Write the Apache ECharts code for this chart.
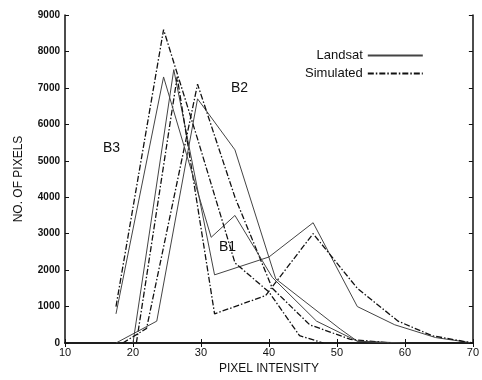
<!DOCTYPE html>
<html>
<head>
<meta charset="utf-8">
<script src="https://cdn.jsdelivr.net/npm/echarts@6/dist/echarts.min.js"></script>
<style>
  html, body { margin: 0; padding: 0; background: #fff; }
  #chart { width: 482px; height: 380px; }
</style>
</head>
<body>
<div id="chart"></div>
<script>
// Histograms of pixel intensity, Landsat vs simulated, for bands B1-B3.
// Points are [intensity, count].
const b1Landsat = [[20, 0], [26, 7500], [32, 1870], [40, 2360], [46.5, 3300], [53, 1000], [58.5, 500], [64.5, 150], [70, 0]];
const b1Sim = [[20.5, 0], [26.5, 7300], [32, 800], [39.5, 1300], [46.5, 3000], [53, 1500], [59, 600], [64, 200], [70, 0]];
const b2Landsat = [[17.5, 0], [23.5, 600], [29.5, 6700], [35, 5300], [41, 1760], [50.5, 380], [53, 50], [60, 0]];
const b2Sim = [[18.5, 0], [22, 400], [29.5, 7100], [35, 4000], [40.5, 1500], [46, 500], [52, 100], [58, 0]];
const b3Landsat = [[17.5, 800], [24.5, 7300], [31.5, 2900], [35, 3500], [40.5, 1800], [47, 600], [53, 50], [58, 0]];
const b3Sim = [[17.5, 1000], [24.5, 8600], [29.5, 5600], [35, 2200], [40, 1400], [44.5, 200], [48, 0]];

const xTicks = [10, 20, 30, 40, 50, 60, 70];
const yMax = 9000;

const FONT = "'Liberation Sans Narrow', 'Liberation Sans', Arial, sans-serif";
const SANS = "'Liberation Sans', Arial, sans-serif";
const INK = "#111";
const SOLID = { color: "#444", width: 1, type: "solid" };
const DASHDOT = { color: "#111", width: 1.3, type: [6, 2, 1.5, 2] };

const line = (name, data, style) => ({
  name,
  type: "line",
  data,
  symbol: "none",
  lineStyle: style,
  itemStyle: { color: style.color },
  animation: false,
});

const chart = echarts.init(document.getElementById("chart"));
chart.setOption({
  backgroundColor: "#fff",
  animation: false,
  grid: { left: 65, right: 9, top: 15, bottom: 33 },
  legend: {
    orient: "vertical",
    left: 300,
    top: 44,
    align: "right",
    itemWidth: 55,
    itemHeight: 6,
    itemGap: 5,
    data: ["Landsat", "Simulated"],
    itemStyle: { opacity: 0 },
    textStyle: { color: INK, fontSize: 13, fontFamily: SANS },
  },
  xAxis: [
    {
      type: "value",
      min: xTicks[0],
      max: xTicks[xTicks.length - 1],
      interval: 10,
      name: "PIXEL INTENSITY",
      nameLocation: "middle",
      nameGap: 20,
      nameTextStyle: { color: INK, fontSize: 12, fontFamily: FONT },
      axisLine: { lineStyle: { color: INK, width: 1.5 } },
      axisTick: { inside: true, length: 4, lineStyle: { color: INK } },
      axisLabel: { color: INK, fontSize: 11, fontFamily: FONT, margin: 4 },
      splitLine: { show: false },
    },
    {
      type: "value",
      position: "top",
      min: xTicks[0],
      max: xTicks[xTicks.length - 1],
      interval: 10,
      axisLine: { show: true, lineStyle: { color: INK, width: 1.5 } },
      axisTick: { inside: true, length: 4, lineStyle: { color: INK } },
      axisLabel: { show: false },
      splitLine: { show: false },
    },
  ],
  yAxis: [
    {
      type: "value",
      min: 0,
      max: yMax,
      interval: 1000,
      name: "NO. OF PIXELS",
      nameLocation: "middle",
      nameGap: 40,
      nameTextStyle: { color: INK, fontSize: 12, fontFamily: FONT },
      axisLine: { show: true, lineStyle: { color: INK, width: 1.5 } },
      axisTick: { show: true, inside: true, length: 4, lineStyle: { color: INK } },
      axisLabel: { color: INK, fontSize: 10, fontWeight: "bold", fontFamily: FONT, margin: 5, formatter: (v) => String(v) },
      splitLine: { show: false },
    },
    {
      type: "value",
      position: "right",
      min: 0,
      max: yMax,
      interval: 1000,
      axisLine: { show: true, lineStyle: { color: INK, width: 1.5 } },
      axisTick: { show: true, inside: true, length: 4, lineStyle: { color: INK } },
      axisLabel: { show: false },
      splitLine: { show: false },
    },
  ],
  graphic: [
    { type: "text", left: 103, top: 141, style: { text: "B3", fontSize: 14, fill: INK, fontFamily: SANS } },
    { type: "text", left: 231, top: 81, style: { text: "B2", fontSize: 14, fill: INK, fontFamily: SANS } },
    { type: "text", left: 219, top: 240, style: { text: "B1", fontSize: 14, fill: INK, fontFamily: SANS } },
  ],
  series: [
    line("Landsat", b1Landsat, SOLID),
    line("Simulated", b1Sim, DASHDOT),
    line("Landsat", b2Landsat, SOLID),
    line("Simulated", b2Sim, DASHDOT),
    line("Landsat", b3Landsat, SOLID),
    line("Simulated", b3Sim, DASHDOT),
  ],
});
</script>
</body>
</html>
